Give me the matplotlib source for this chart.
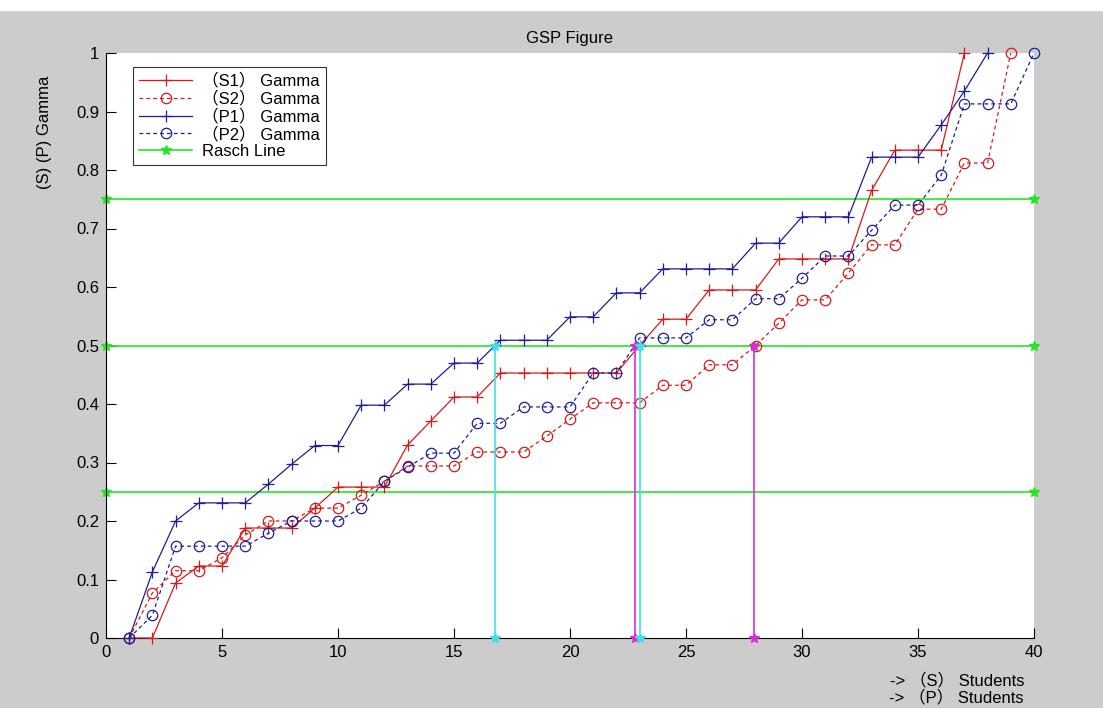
# GSP figure: gamma curves for S and P students with Rasch reference lines

import matplotlib.pyplot as plt
from matplotlib.patches import Rectangle

plt.rcParams['font.family'] = ['Liberation Sans', 'Noto Sans CJK SC', 'DejaVu Sans']

# gamma values per student (x = 1, 2, ...)
s1 = [0, 0, 0.094, 0.123, 0.123, 0.188, 0.188, 0.188, 0.222, 0.258,
      0.258, 0.258, 0.33, 0.371, 0.412, 0.412, 0.453, 0.453, 0.453, 0.453,
      0.453, 0.453, 0.5, 0.545, 0.545, 0.595, 0.595, 0.595, 0.648, 0.648,
      0.648, 0.648, 0.765, 0.834, 0.834, 0.834, 1.0]
s2 = [0, 0.077, 0.115, 0.115, 0.137, 0.176, 0.2, 0.2, 0.222, 0.222,
      0.244, 0.268, 0.294, 0.294, 0.294, 0.318, 0.318, 0.318, 0.345, 0.374,
      0.402, 0.402, 0.402, 0.432, 0.432, 0.467, 0.467, 0.5, 0.538, 0.578,
      0.578, 0.624, 0.672, 0.672, 0.733, 0.733, 0.812, 0.812, 1.0]
p1 = [0, 0.113, 0.2, 0.231, 0.231, 0.231, 0.263, 0.297, 0.329, 0.329,
      0.398, 0.398, 0.434, 0.434, 0.47, 0.47, 0.509, 0.509, 0.509, 0.549,
      0.549, 0.59, 0.59, 0.631, 0.631, 0.631, 0.631, 0.675, 0.675, 0.72,
      0.72, 0.72, 0.822, 0.822, 0.822, 0.877, 0.935, 1.0]
p2 = [0, 0.039, 0.157, 0.157, 0.157, 0.157, 0.179, 0.2, 0.2, 0.2,
      0.222, 0.268, 0.292, 0.316, 0.316, 0.367, 0.367, 0.395, 0.395, 0.395,
      0.453, 0.453, 0.513, 0.513, 0.513, 0.544, 0.544, 0.58, 0.58, 0.615,
      0.653, 0.653, 0.697, 0.74, 0.74, 0.791, 0.913, 0.913, 0.913, 1.0]

rasch_levels = [0.25, 0.5, 0.75]
rasch_x = [0, 40]

# where the curves cross gamma = 0.5
cross_s = [22.8, 27.95]
cross_p = [16.75, 23.0]
cross_level = 0.5

xticks = [0, 5, 10, 15, 20, 25, 30, 35, 40]
yticks = [0, 0.1, 0.2, 0.3, 0.4, 0.5, 0.6, 0.7, 0.8, 0.9, 1]
ytick_labels = ['0', '0.1', '0.2', '0.3', '0.4', '0.5', '0.6', '0.7', '0.8', '0.9', '1']

red = '#d41c1c'
blue = '#1e1e96'
green = '#22e622'
cyan = '#3ee0e6'
magenta = '#d62ed6'
fs = 12

fig = plt.figure(figsize=(11.03, 7.08), dpi=100, facecolor='#cccccc')
fig.patches.append(Rectangle((0, 1 - 10 / 708), 1, 10 / 708,
                             transform=fig.transFigure, color='white'))
ax = fig.add_axes([106 / 1103, 70 / 708, 928 / 1103, 585 / 708])
ax.set_facecolor('white')

kw = dict(lw=0.9, mew=0.9, clip_on=False, zorder=3)
ax.plot(range(1, len(s1) + 1), s1, '-', marker='+', ms=9, color=red,
        label='（S1） Gamma', **kw)
ax.plot(range(1, len(s2) + 1), s2, '--', marker='o', ms=7.5, mfc='none',
        color=red, dashes=(3, 2.5), label='（S2） Gamma', **kw)
ax.plot(range(1, len(p1) + 1), p1, '-', marker='+', ms=9, color=blue,
        label='（P1） Gamma', **kw)
ax.plot(range(1, len(p2) + 1), p2, '--', marker='o', ms=7.5, mfc='none',
        color=blue, dashes=(3, 2.5), label='（P2） Gamma', **kw)

for i, lev in enumerate(rasch_levels):
    ax.plot(rasch_x, [lev, lev], '-', marker='*', color=green, lw=1.2, ms=7,
            clip_on=False, zorder=2, label='Rasch Line' if i == 0 else None)

for xc in cross_s:
    ax.plot([xc, xc], [0, cross_level], '-', marker='*', color=magenta,
            lw=1.2, ms=7, clip_on=False, zorder=4)
for xc in cross_p:
    ax.plot([xc, xc], [0, cross_level], '-', marker='*', color=cyan,
            lw=1.2, ms=7, clip_on=False, zorder=4)

ax.set_xlim(0, 40)
ax.set_ylim(0, 1)
ax.set_xticks(xticks)
ax.set_xticklabels([str(t) for t in xticks])
ax.set_yticks(yticks)
ax.set_yticklabels(ytick_labels)
ax.tick_params(direction='in', length=7, width=0.8, labelsize=fs, pad=5)
ax.spines['top'].set_visible(False)
ax.spines['right'].set_visible(False)

ax.set_title('GSP Figure', fontsize=fs, pad=7)
ax.set_ylabel('(S) (P) Gamma', fontsize=fs)
ax.yaxis.set_label_coords(-0.058, 0.865)

fig.text(1024 / 1103, 1 - 680 / 708, '-> （S） Students', ha='right',
         va='center', fontsize=fs)
fig.text(1024 / 1103, 1 - 697 / 708, '-> （P） Students', ha='right',
         va='center', fontsize=fs)

leg = ax.legend(loc='upper left', bbox_to_anchor=(27 / 928, 1 - 14 / 585),
                fontsize=fs, handlelength=3.2, frameon=True, fancybox=False,
                borderaxespad=0, labelspacing=0.12, borderpad=0.35,
                handletextpad=0.6)
leg.get_frame().set_edgecolor('black')
leg.get_frame().set_linewidth(0.8)

fig.savefig('out.png', dpi=100, facecolor=fig.get_facecolor())
